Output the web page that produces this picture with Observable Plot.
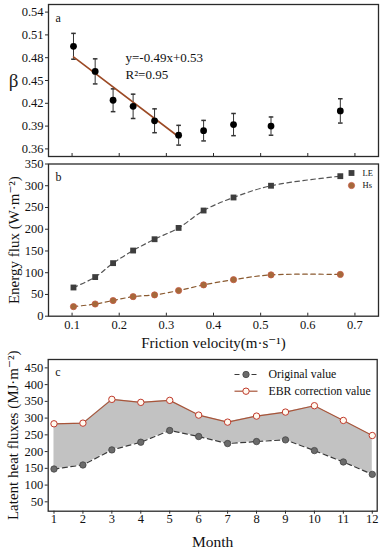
<!DOCTYPE html>
<html><head><meta charset="utf-8">
<script src="https://cdn.jsdelivr.net/npm/d3@7"></script>
<script src="https://cdn.jsdelivr.net/npm/@observablehq/plot@0.6"></script>
<style>
body{margin:0;background:#fff;}
#chart{position:relative;width:383px;height:550px;overflow:hidden;font-family:'Liberation Serif',serif;}
#chart svg{position:absolute;left:0;overflow:visible;font-family:'Liberation Serif',serif;}
#chart svg text{font-family:'Liberation Serif','DejaVu Serif',serif !important;font-variant:normal !important;}
</style></head><body><div id="chart"></div>
<script>
// ---- data ----
const uStar   = [0.103, 0.149, 0.187, 0.2295, 0.275, 0.326, 0.379, 0.4425, 0.522, 0.669];
const beta    = [0.495, 0.462, 0.424, 0.416, 0.397, 0.378, 0.384, 0.392, 0.390, 0.410];
const betaErr = [0.017, 0.0165, 0.015, 0.016, 0.0157, 0.013, 0.0135, 0.0146, 0.012, 0.016];
const fitX = [0.103, 0.326];
const fitY = [0.481, 0.376];
const LE = [66, 90, 122, 151, 177, 203, 243, 273, 300, 322];
const Hs = [22, 28, 36, 45, 49, 59, 72, 84, 95, 96];
const months   = [1,2,3,4,5,6,7,8,9,10,11,12];
const original = [148, 160, 205, 228, 263, 245, 224, 230, 235, 203, 169, 132];
const ebr      = [283, 285, 356, 347, 353, 309, 288, 306, 318, 337, 293, 248];
const betaTicks = [0.36, 0.39, 0.42, 0.45, 0.48, 0.51, 0.54];
const fluxTicks = [0, 50, 100, 150, 200, 250, 300, 350];
const uTicks = [0.1, 0.2, 0.3, 0.4, 0.5, 0.6, 0.7];
const lhTicks = [50, 100, 150, 200, 250, 300, 350, 400, 450];

const F = "'Liberation Serif', 'DejaVu Serif', serif";
const W = 383;
const hSym = {draw(ctx, size){const r = Math.sqrt(size/Math.PI); ctx.moveTo(-r,0); ctx.lineTo(r,0);}};
const idx = d3.range(uStar.length);
const midx = d3.range(months.length);
const style = {fontFamily: F, fontSize: "12.5px", color: "#111", background: "transparent", overflow: "visible"};
const frameC = "#2a2a2a";
const T = {fontFamily: F, fill: "#111", lineAnchor: "middle"};
const ax = {fontFamily: F, fontSize: 12.5, fill: "#111", stroke: frameC, label: null};

// ---- panel a ----
const aH = 160, aMT = 4, aMB = 4;
const a = Plot.plot({
  width: W, height: aH, marginTop: aMT, marginBottom: aMB, marginLeft: 48, marginRight: 5,
  style,
  x: {domain: [0.05, 0.75], axis: null},
  y: {domain: [0.35, 0.55]},
  marks: [
    Plot.axisY(betaTicks, {...ax, tickSize: 3, tickPadding: 2, tickFormat: d3.format(".2f")}),
    Plot.tickX(uTicks, {x: d => d, insetTop: aH - aMT - aMB - 3, stroke: frameC}),
    Plot.ruleX(idx, {x: i => uStar[i], y1: i => beta[i] - betaErr[i], y2: i => beta[i] + betaErr[i], stroke: "#333", strokeWidth: 1}),
    Plot.dot(idx, {x: i => uStar[i], y: i => beta[i] - betaErr[i], symbol: hSym, r: 2.3, stroke: "#333", fill: "none"}),
    Plot.dot(idx, {x: i => uStar[i], y: i => beta[i] + betaErr[i], symbol: hSym, r: 2.3, stroke: "#333", fill: "none"}),
    Plot.line(d3.range(fitX.length), {x: i => fitX[i], y: i => fitY[i], stroke: "#9c4a25", strokeWidth: 1.6}),
    Plot.dot(idx, {x: i => uStar[i], y: i => beta[i], r: 3.4, fill: "#000"}),
    Plot.text(["y=-0.49x+0.53"], {...T, frameAnchor: "top-left", dx: 77, dy: 53, textAnchor: "start", fontSize: 13}),
    Plot.text(["R²=0.95"], {...T, frameAnchor: "top-left", dx: 77, dy: 70, textAnchor: "start", fontSize: 13}),
    Plot.text(["a"], {...T, frameAnchor: "top-left", dx: 7, dy: 14, textAnchor: "start", fontSize: 12}),
    Plot.text(["β"], {...T, frameAnchor: "left", dx: -35, textAnchor: "middle", fontSize: 19, fill: "#222"}),
    Plot.frame({stroke: frameC, strokeWidth: 1.3})
  ]
});
a.style.top = "0px";

// ---- panel b ----
const bH = 195, bMT = 3.5, bMB = 39.3;
const b = Plot.plot({
  width: W, height: bH, marginTop: bMT, marginBottom: bMB, marginLeft: 48, marginRight: 5,
  style,
  x: {domain: [0.05, 0.75]},
  y: {domain: [0, 350]},
  marks: [
    Plot.axisY(fluxTicks, {...ax, tickSize: 3, tickPadding: 2}),
    Plot.axisX(uTicks, {...ax, tickSize: 0, tickPadding: 4, tickFormat: d3.format(".1f")}),
    Plot.tickX(uTicks, {x: d => d, insetTop: bH - bMT - bMB - 3, stroke: frameC}),
    Plot.line(idx, {x: i => uStar[i], y: i => LE[i], curve: "catmull-rom", stroke: "#555", strokeWidth: 1.2, strokeDasharray: "4.5,3.5"}),
    Plot.line(idx, {x: i => uStar[i], y: i => Hs[i], curve: "catmull-rom", stroke: "#8a5a30", strokeWidth: 1.2, strokeDasharray: "4.5,3.5"}),
    Plot.dot(idx, {x: i => uStar[i], y: i => LE[i], symbol: "square", r: 3.3, fill: "#3e3e3e"}),
    Plot.dot(idx, {x: i => uStar[i], y: i => Hs[i], r: 3.1, fill: "#a5693a", stroke: "#c45a45", strokeWidth: 0.8}),
    Plot.dot(["LE"], {frameAnchor: "top-right", dx: -27, dy: 9, symbol: "square", r: 3.3, fill: "#3e3e3e"}),
    Plot.text(["LE"], {...T, frameAnchor: "top-right", dx: -16, dy: 9, textAnchor: "start", fontSize: 8.5}),
    Plot.dot(["Hs"], {frameAnchor: "top-right", dx: -27, dy: 21.5, r: 3.1, fill: "#a5693a", stroke: "#c45a45", strokeWidth: 0.8}),
    Plot.text(["Hs"], {...T, frameAnchor: "top-right", dx: -16, dy: 21.5, textAnchor: "start", fontSize: 8.5}),
    Plot.text(["b"], {...T, frameAnchor: "top-left", dx: 7, dy: 13, textAnchor: "start", fontSize: 12}),
    Plot.text(["Energy flux (W·m⁻²)"], {...T, frameAnchor: "left", dx: -34, rotate: -90, textAnchor: "middle", fontSize: 15}),
    Plot.text(["Friction velocity(m·s⁻¹)"], {...T, frameAnchor: "bottom", dy: 27, textAnchor: "middle", fontSize: 15}),
    Plot.frame({stroke: frameC, strokeWidth: 1.3})
  ]
});
b.style.top = "160px";

// ---- panel c ----
const cH = 195, cMT = 4, cMB = 39.3;
const c = Plot.plot({
  width: W, height: cH, marginTop: cMT, marginBottom: cMB, marginLeft: 47.7, marginRight: 6.3,
  style,
  x: {domain: [0.8, 12.17]},
  y: {domain: [22, 475]},
  marks: [
    Plot.axisY(lhTicks, {...ax, tickSize: 3, tickPadding: 2}),
    Plot.axisX(months, {...ax, tickSize: 3, tickPadding: 0}),
    Plot.areaY(midx, {x: i => months[i], y1: i => original[i], y2: i => ebr[i], fill: "#c2c2c2"}),
    Plot.line(midx, {x: i => months[i], y: i => original[i], stroke: "#3a3a3a", strokeWidth: 1.2, strokeDasharray: "5,3.5"}),
    Plot.line(midx, {x: i => months[i], y: i => ebr[i], stroke: "#a8553a", strokeWidth: 1.2}),
    Plot.dot(midx, {x: i => months[i], y: i => original[i], r: 3.2, fill: "#6b6b6b", stroke: "#444", strokeWidth: 0.8}),
    Plot.dot(midx, {x: i => months[i], y: i => ebr[i], r: 3.2, fill: "#fffaf0", stroke: "#c0392b", strokeWidth: 1}),
    // legend
    Plot.dot(["o"], {frameAnchor: "top-right", dx: -131.2, dy: 15, symbol: hSym, r: 11.5, stroke: "#3a3a3a", strokeWidth: 1.2, strokeDasharray: "5,3.5", fill: "none"}),
    Plot.dot(["o"], {frameAnchor: "top-right", dx: -131.2, dy: 15, r: 3.2, fill: "#6b6b6b", stroke: "#444", strokeWidth: 0.8}),
    Plot.text(["Original value"], {...T, frameAnchor: "top-right", dx: -108.7, dy: 15, textAnchor: "start", fontSize: 11.8}),
    Plot.dot(["e"], {frameAnchor: "top-right", dx: -131.2, dy: 31.7, symbol: hSym, r: 11.5, stroke: "#a8553a", strokeWidth: 1.2, fill: "none"}),
    Plot.dot(["e"], {frameAnchor: "top-right", dx: -131.2, dy: 31.7, r: 3.2, fill: "#fffaf0", stroke: "#c0392b", strokeWidth: 1}),
    Plot.text(["EBR correction value"], {...T, frameAnchor: "top-right", dx: -108.7, dy: 31.7, textAnchor: "start", fontSize: 11.8}),
    Plot.text(["c"], {...T, frameAnchor: "top-left", dx: 7, dy: 13, textAnchor: "start", fontSize: 12}),
    Plot.text(["Latent heat fluxes (MJ·m⁻²)"], {...T, frameAnchor: "left", dx: -35, rotate: -90, textAnchor: "middle", fontSize: 15}),
    Plot.text(["Month"], {...T, frameAnchor: "bottom", dy: 31, textAnchor: "middle", fontSize: 15.5}),
    Plot.frame({stroke: frameC, strokeWidth: 1.3})
  ]
});
c.style.top = "355px";

const root = document.getElementById("chart");
root.append(a, b, c);
</script>
</body></html>
